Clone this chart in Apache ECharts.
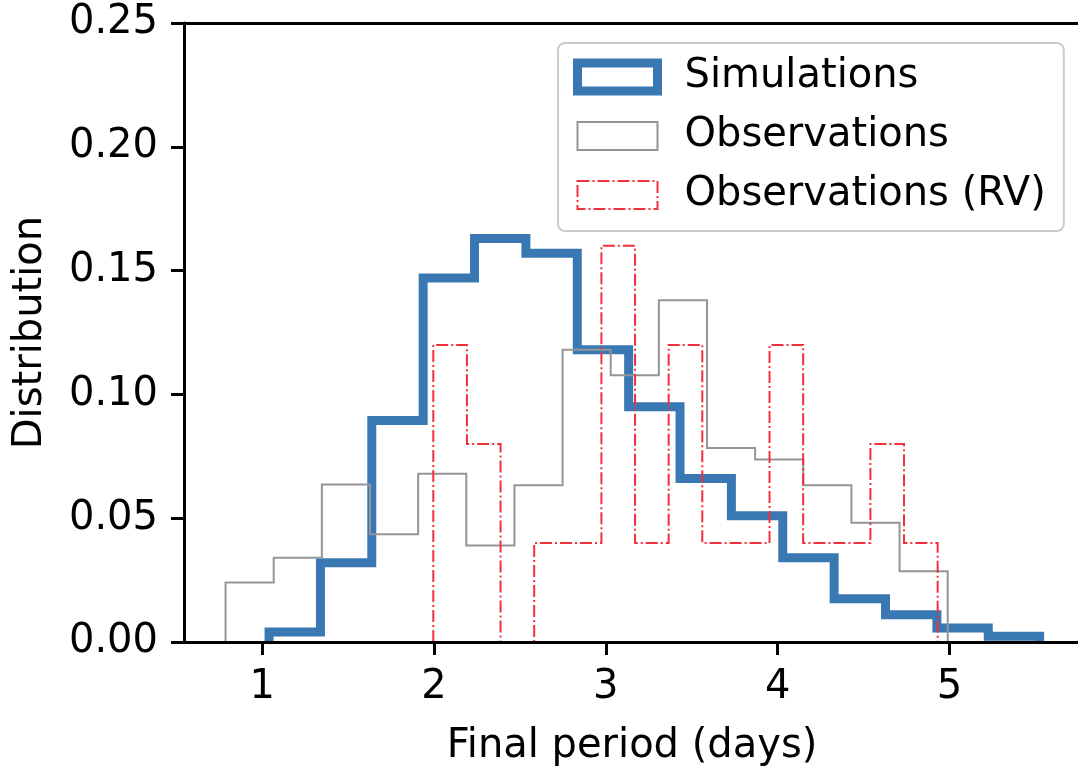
<!DOCTYPE html>
<html>
<head>
<meta charset="utf-8">
<title>Final period distribution</title>
<script src="https://cdn.jsdelivr.net/npm/echarts@6/dist/echarts.min.js"></script>
<style>
  html, body { margin: 0; padding: 0; background: #fff; }
  #chart { width: 1078px; height: 766px; }
</style>
</head>
<body>
<div id="chart"></div>
<script>
// histogram bins (start, width) and heights
const simStart = 1.04, simWidth = 0.299;
const simValues = [0.004, 0.032, 0.0895, 0.147, 0.163, 0.157, 0.118, 0.095, 0.066, 0.051, 0.034, 0.0175, 0.011, 0.0057, 0.0023];

const obsStart = 0.787, obsWidth = 0.2802;
const obsValues = [0.024, 0.034, 0.0636, 0.0435, 0.068, 0.039, 0.0633, 0.118, 0.1077, 0.138, 0.0784, 0.0737, 0.0633, 0.0482, 0.0286];

const rvStart = 1.996, rvWidth = 0.1957;
const rvValues = [0.12, 0.08, 0, 0.04, 0.04, 0.16, 0.04, 0.12, 0.04, 0.04, 0.12, 0.04, 0.04, 0.08, 0.04];

const xTicks = [1, 2, 3, 4, 5];
const yTicks = [0, 0.05, 0.1, 0.15, 0.2, 0.25];

const FONT = "'DejaVu Sans', Verdana, sans-serif";
const FS = 40;

// outline of a step histogram: up at the first edge, across each bin, down at the last edge
function stepPoints(start, width, values) {
  const pts = [[start, 0]];
  values.forEach((v, i) => {
    pts.push([start + i * width, v]);
    pts.push([start + (i + 1) * width, v]);
  });
  pts.push([start + values.length * width, 0]);
  return pts;
}

const chart = echarts.init(document.getElementById("chart"));

const axisLine = { show: true, lineStyle: { color: "#000", width: 3 } };

const option = {
  backgroundColor: "#ffffff",
  animation: false,
  grid: {
    left: 184,
    top: 23,
    width: 896,
    height: 619,
    outerBoundsMode: "none",
  },
  legend: {
    orient: "vertical",
    left: 558,
    top: 43,
    itemWidth: 80,
    itemHeight: 28,
    itemGap: 19,
    padding: [14, 18, 16, 15],
    backgroundColor: "#ffffff",
    borderColor: "#cccccc",
    borderWidth: 2,
    borderRadius: 7,
    selectedMode: false,
    textStyle: {
      fontFamily: FONT,
      fontSize: FS,
      lineHeight: 40,
      color: "#000",
      padding: [0, 0, 0, 22],
    },
    data: [
      {
        name: "Simulations",
        icon: "rect",
        itemStyle: { color: "rgba(0,0,0,0)", borderColor: "#3a78b4", borderWidth: 9 },
      },
      {
        name: "Observations",
        icon: "rect",
        itemStyle: { color: "rgba(0,0,0,0)", borderColor: "#959595", borderWidth: 2 },
      },
      {
        name: "Observations (RV)",
        icon: "rect",
        itemStyle: {
          color: "rgba(0,0,0,0)",
          borderColor: "#f2303c",
          borderWidth: 2,
          borderType: [12, 3, 2, 3],
        },
      },
    ],
  },
  xAxis: [
    {
      type: "value",
      min: 0.545,
      max: 5.76,
      z: 5,
      name: "Final period (days)",
      nameLocation: "middle",
      nameGap: 85,
      nameTextStyle: { fontFamily: FONT, fontSize: FS, color: "#000" },
      axisLine: axisLine,
      axisTick: {
        show: true,
        inside: false,
        length: 13,
        customValues: xTicks,
        lineStyle: { color: "#000", width: 3 },
      },
      axisLabel: {
        customValues: xTicks,
        margin: 26,
        fontFamily: FONT,
        fontSize: FS,
        color: "#000",
      },
      splitLine: { show: false },
    },
    {
      // top spine only
      type: "value",
      position: "top",
      min: 0.545,
      max: 5.76,
      z: 5,
      axisLine: axisLine,
      axisTick: { show: false },
      axisLabel: { show: false },
      splitLine: { show: false },
    },
  ],
  yAxis: {
    type: "value",
    min: 0,
    max: 0.25,
    interval: 0.05,
    z: 5,
    name: "Distribution",
    nameLocation: "middle",
    nameGap: 133,
    nameTextStyle: { fontFamily: FONT, fontSize: FS, color: "#000" },
    axisLine: axisLine,
    axisTick: {
      show: true,
      inside: false,
      length: 13,
      customValues: yTicks,
      lineStyle: { color: "#000", width: 3 },
    },
    axisLabel: {
      customValues: yTicks,
      margin: 26,
      fontFamily: FONT,
      fontSize: FS,
      color: "#000",
      formatter: (v) => v.toFixed(2),
    },
    splitLine: { show: false },
  },
  series: [
    {
      name: "Simulations",
      type: "line",
      data: stepPoints(simStart, simWidth, simValues),
      showSymbol: false,
      symbol: "none",
      color: "#3a78b4",
      lineStyle: { color: "#3a78b4", width: 9, join: "miter", cap: "butt" },
      z: 2,
    },
    {
      name: "Observations",
      type: "line",
      data: stepPoints(obsStart, obsWidth, obsValues),
      showSymbol: false,
      symbol: "none",
      color: "#959595",
      lineStyle: { color: "#959595", width: 2, join: "miter" },
      z: 3,
    },
    {
      name: "Observations (RV)",
      type: "line",
      data: stepPoints(rvStart, rvWidth, rvValues),
      showSymbol: false,
      symbol: "none",
      color: "#f2303c",
      lineStyle: { color: "#f2303c", width: 2, type: [12, 3, 2, 3], join: "miter" },
      z: 4,
    },
  ],
};

chart.setOption(option);
</script>
</body>
</html>
